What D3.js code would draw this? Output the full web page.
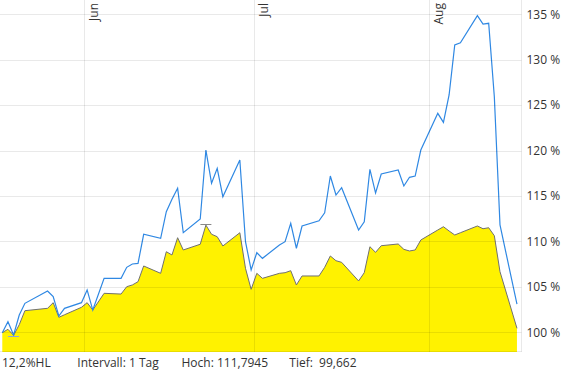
<!DOCTYPE html>
<html>
<head>
<meta charset="utf-8">
<script src="https://cdn.jsdelivr.net/npm/d3@7"></script>
<style>
  html, body { margin: 0; padding: 0; background: #fff; }
  svg { display: block; }
  text { font-family: "Open Sans", sans-serif; fill: #333; }
</style>
</head>
<body>
<svg id="chart" width="569" height="374"></svg>
<script>
// ---- data ----
const dates = [
  "2021-05-17","2021-05-18","2021-05-19","2021-05-20","2021-05-21","2021-05-25","2021-05-26","2021-05-27","2021-05-28","2021-05-31",
  "2021-06-01","2021-06-02","2021-06-04","2021-06-07","2021-06-08","2021-06-09","2021-06-10","2021-06-11","2021-06-14","2021-06-15",
  "2021-06-16","2021-06-17","2021-06-18","2021-06-21","2021-06-22","2021-06-23","2021-06-24","2021-06-25","2021-06-28","2021-06-29",
  "2021-06-30","2021-07-01","2021-07-02","2021-07-05","2021-07-06","2021-07-07","2021-07-08","2021-07-09","2021-07-12","2021-07-13",
  "2021-07-14","2021-07-15","2021-07-16","2021-07-19","2021-07-20","2021-07-21","2021-07-22","2021-07-23","2021-07-26","2021-07-27",
  "2021-07-28","2021-07-29","2021-07-30","2021-08-02","2021-08-03","2021-08-04","2021-08-05","2021-08-06","2021-08-09","2021-08-10",
  "2021-08-11","2021-08-12","2021-08-13","2021-08-16"
];
// yellow area series
const fundValues = [
  99.96, 100.33, 99.662, 100.84, 102.38, 102.64, 103.26, 101.65, 101.93, 102.75,
  103.26, 102.45, 104.29, 104.21, 105.02, 105.21, 105.57, 107.30, 106.49, 108.87,
  108.51, 110.41, 109.06, 109.69, 111.7945, 110.79, 110.52, 109.50, 110.96, 107.04,
  104.73, 106.49, 105.94, 106.49, 106.56, 106.78, 105.21, 106.20, 106.20, 107.15,
  108.40, 107.88, 107.70, 105.65, 106.56, 109.42, 108.80, 109.53, 109.72, 109.13,
  108.95, 109.06, 110.16, 111.26, 111.62, 111.15, 110.71, 110.96, 111.70, 111.40,
  111.51, 110.63, 106.67, 100.44
];
// blue line series
const compareValues = [
  99.96, 101.17, 99.70, 101.90, 103.19, 104.55, 103.92, 101.79, 102.64, 103.26,
  104.66, 102.45, 105.94, 105.94, 107.15, 107.52, 107.59, 110.79, 110.35, 113.27,
  114.64, 115.85, 110.96, 112.47, 120.06, 116.40, 118.05, 114.92, 118.96, 109.97,
  106.86, 108.76, 108.14, 109.61, 109.97, 112.00, 109.25, 111.70, 112.28, 113.16,
  117.20, 115.11, 115.91, 111.26, 112.17, 117.94, 115.33, 117.42, 117.86, 116.10,
  117.06, 117.20, 120.06, 124.10, 123.11, 126.12, 131.62, 131.87, 134.85, 133.93,
  134.01, 125.90, 111.81, 103.11
];
const yTicks = [100, 105, 110, 115, 120, 125, 130, 135];
const monthTicks = ["2021-06-01", "2021-07-01", "2021-08-01"];
const monthLabels = ["Jun", "Jul", "Aug"];
const footerLabels = ["12,2%HL", "Intervall: 1 Tag", "Hoch: 111,7945", "Tief:\u00a0 99,662"];
const highValue = 111.7945;
const lowValue = 99.662;

// ---- layout ----
const W = 569, H = 374;
const plotL = 0, plotR = 521.5, plotT = 0, plotB = 352;
const parse = s => { const d = d3.timeParse("%Y-%m-%d")(s); return new Date(d.getTime() + 12 * 3600 * 1000); };
const parseDay = d3.timeParse("%Y-%m-%d");

const x = d3.scaleTime()
  .domain([parseDay("2021-06-01"), parseDay("2021-08-01")])
  .range([84.3, 429.3]);
const y = d3.scaleLinear()
  .domain([100, 135])
  .range([332.3, 14.3]);

const data = dates.map((d, i) => ({ date: parse(d), fund: fundValues[i], cmp: compareValues[i] }));

const svg = d3.select("#chart");

// clip
svg.append("defs").append("clipPath").attr("id", "clip")
  .append("rect").attr("x", plotL).attr("y", plotT).attr("width", plotR - plotL).attr("height", plotB - plotT);

const g = svg.append("g").attr("clip-path", "url(#clip)");

// area
const area = d3.area().x(d => x(d.date)).y0(plotB).y1(d => y(d.fund));
g.append("path").datum(data).attr("d", area).attr("fill", "#fff200");

// grid
const grid = svg.append("g").attr("stroke", "#000").attr("stroke-opacity", 0.085).attr("stroke-width", 1);
yTicks.forEach(t => {
  const yy = Math.round(y(t)) + 0.5;
  grid.append("line").attr("x1", plotL).attr("x2", plotR).attr("y1", yy).attr("y2", yy);
});
monthTicks.forEach(m => {
  const xx = Math.round(x(parseDay(m))) + 0.5;
  grid.append("line").attr("x1", xx).attr("x2", xx).attr("y1", plotT).attr("y2", plotB);
});
// frame right/bottom
grid.append("line").attr("x1", plotR).attr("x2", plotR).attr("y1", plotT).attr("y2", plotB);
grid.append("line").attr("x1", plotL).attr("x2", plotR).attr("y1", plotB - 0.5).attr("y2", plotB - 0.5);

// outline of area
const lineF = d3.line().x(d => x(d.date)).y(d => y(d.fund));
g.append("path").datum(data).attr("d", lineF).attr("fill", "none").attr("stroke", "#707070").attr("stroke-width", 1);

// blue line
const lineC = d3.line().x(d => x(d.date)).y(d => y(d.cmp));
g.append("path").datum(data).attr("d", lineC).attr("fill", "none").attr("stroke", "#2f88e3").attr("stroke-width", 1.2);

// high / low markers
const hi = data[fundValues.indexOf(highValue)];
const lo = data[fundValues.indexOf(lowValue)];
svg.append("line").attr("x1", x(hi.date) - 5.5).attr("x2", x(hi.date) + 5.5)
  .attr("y1", Math.round(y(highValue)) - 0.5).attr("y2", Math.round(y(highValue)) - 0.5)
  .attr("stroke", "#888").attr("stroke-width", 1);
svg.append("line").attr("x1", x(lo.date) - 5.5).attr("x2", x(lo.date) + 5.5)
  .attr("y1", Math.round(y(lowValue)) + 1.5).attr("y2", Math.round(y(lowValue)) + 1.5)
  .attr("stroke", "#8ea6d8").attr("stroke-width", 1);

// y labels (right)
yTicks.forEach(t => {
  svg.append("text").attr("x", 526.5).attr("y", y(t)).attr("dy", "0.36em")
    .attr("font-size", 12).text(t + " %");
});

// month labels (rotated)
monthTicks.forEach((m, i) => {
  const xx = x(parseDay(m)) + 13.8;
  svg.append("text").attr("transform", `translate(${xx},3) rotate(-90)`)
    .attr("text-anchor", "end").attr("font-size", 12).text(monthLabels[i]);
});

// footer
const footerX = [2, 77.3, 181.5, 289.3];
footerLabels.forEach((t, i) => {
  svg.append("text").attr("x", footerX[i]).attr("y", 367).attr("font-size", 12)
    .attr("xml:space", "preserve").style("white-space", "pre").text(t);
});
</script>
</body>
</html>
